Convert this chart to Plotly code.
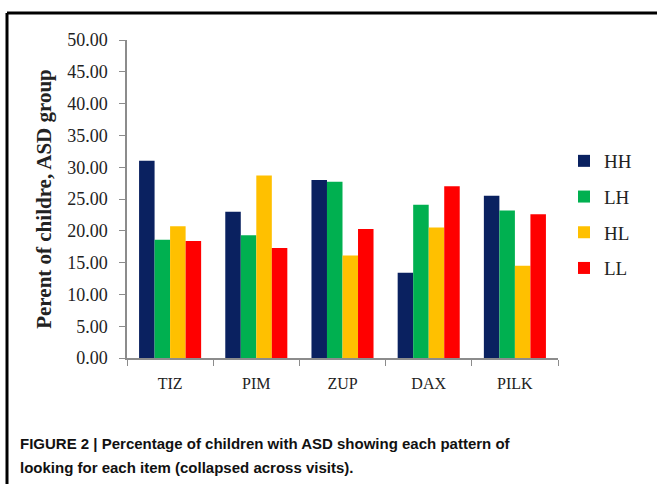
import plotly.graph_objects as go

categories = ["TIZ", "PIM", "ZUP", "DAX", "PILK"]
hh = [31.0, 23.0, 28.0, 13.4, 25.5]
lh = [18.6, 19.3, 27.7, 24.1, 23.2]
hl = [20.7, 28.7, 16.1, 20.5, 14.5]
ll = [18.4, 17.3, 20.3, 27.0, 22.6]
series_names = ["HH", "LH", "HL", "LL"]
series_colors = ["#0A2160", "#00B050", "#FFC000", "#FF0000"]
series_values = [hh, lh, hl, ll]
y_ticks = [0, 5, 10, 15, 20, 25, 30, 35, 40, 45, 50]

W, H = 657, 484
L, R, T, B = 127, 99, 40, 126
pw, ph = W - L - R, H - T - B

def px_x(x):
    return (x - L) / pw

def px_y(y):
    return (H - B - y) / ph

fig = go.Figure()
for i, (name, vals, col) in enumerate(zip(series_names, series_values, series_colors)):
    fig.add_trace(go.Bar(x=categories, y=vals, name=name, marker_color=col,
                         marker_line_width=0, legendgroup=name))

serif = "Liberation Serif, Times New Roman, serif"
fig.update_layout(
    width=W, height=H,
    margin=dict(l=L, r=R, t=T, b=B, autoexpand=False),
    paper_bgcolor="white", plot_bgcolor="white",
    barmode="group", bargap=0.28, bargroupgap=0,
    font=dict(family=serif, color="#222"),
    showlegend=True,
    legend=dict(x=px_x(564), y=px_y(142), xanchor="left", yanchor="top",
                font=dict(family=serif, size=19, color="#222"),
                tracegroupgap=8, itemwidth=30, bgcolor="rgba(0,0,0,0)"),
    xaxis=dict(showline=True, linecolor="#8c8c8c", linewidth=1.5,
               ticks="outside", tickson="boundaries", ticklen=6, tickcolor="#8c8c8c",
               tickfont=dict(family=serif, size=16, color="#222"),
               ticklabelstandoff=10,
               showgrid=False, zeroline=False),
    yaxis=dict(range=[0, 50], tickvals=y_ticks, tickformat=".2f",
               showline=True, linecolor="#8c8c8c", linewidth=1.5,
               ticks="outside", ticklen=6, tickcolor="#8c8c8c",
               tickfont=dict(family=serif, size=18, color="#222"),
               ticklabelstandoff=8,
               showgrid=False, zeroline=False,
               title=dict(text="<b>Perent of childre, ASD group</b>",
                          font=dict(family=serif, size=21, color="#222"),
                          standoff=10)),
)

# frame lines (left and top)
fig.add_shape(type="line", xref="paper", yref="paper",
              x0=px_x(7), x1=px_x(W + 5), y0=px_y(13), y1=px_y(13),
              line=dict(color="black", width=3))
fig.add_shape(type="line", xref="paper", yref="paper",
              x0=px_x(7), x1=px_x(7), y0=px_y(13), y1=px_y(H + 5),
              line=dict(color="black", width=3))

sans = "Liberation Sans, Arial, sans-serif"
fig.add_annotation(xref="paper", yref="paper", x=px_x(18), y=px_y(443),
                   xanchor="left", yanchor="middle", showarrow=False,
                   text="<b>FIGURE 2 | Percentage of children with ASD showing each pattern of</b>",
                   font=dict(family=sans, size=15, color="#111"))
fig.add_annotation(xref="paper", yref="paper", x=px_x(18), y=px_y(467),
                   xanchor="left", yanchor="middle", showarrow=False,
                   text="<b>looking for each item (collapsed across visits).</b>",
                   font=dict(family=sans, size=15, color="#111"))

fig.write_html("out.html", config={"displayModeBar": False},
               post_script="document.body.style.margin='0';document.body.style.overflow='hidden';")
